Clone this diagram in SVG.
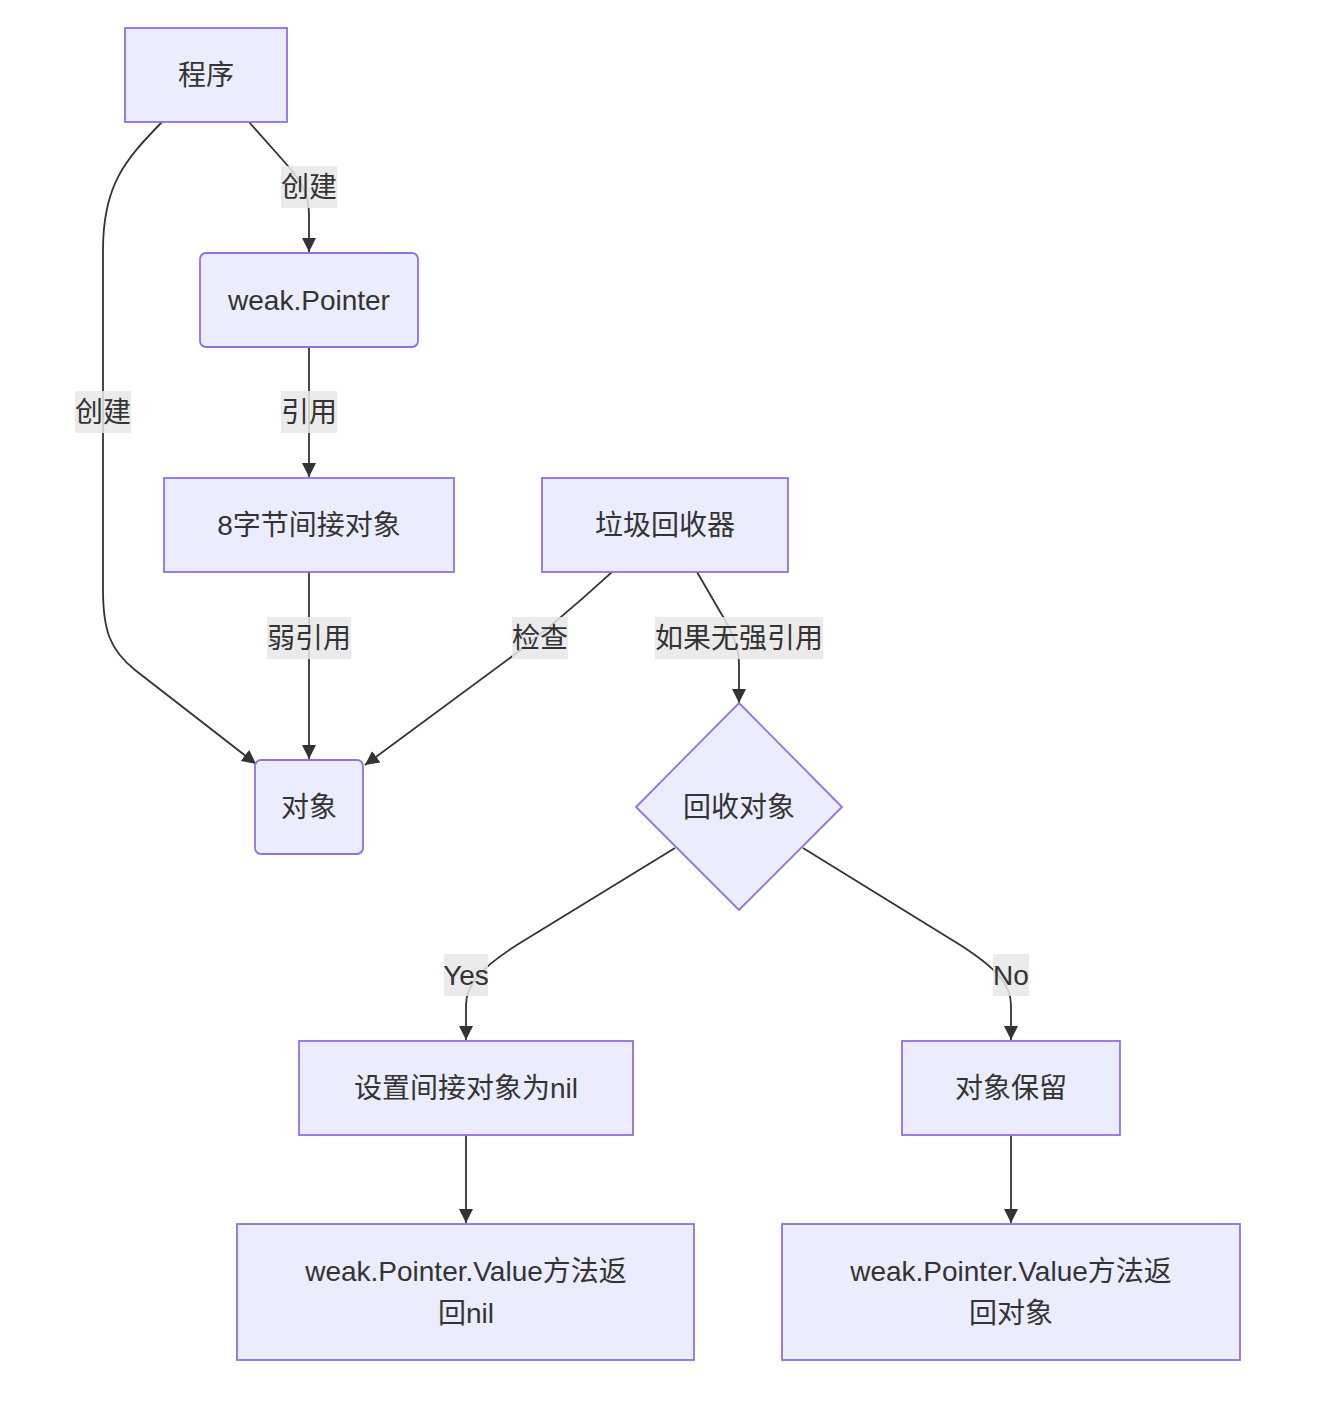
<svg xmlns="http://www.w3.org/2000/svg" width="1334" height="1410" viewBox="0 0 1334 1410">
<style>
.node rect,.node polygon{fill:#ECECFF;stroke:#9370DB;stroke-width:1.8}
text{font-family:"Liberation Sans","Noto Sans CJK SC",sans-serif;font-size:28px;fill:#333;text-anchor:middle;dominant-baseline:central}
.edge{fill:none;stroke:#333;stroke-width:1.8}
.lbl rect{fill:#e8e8e8;opacity:0.85}
</style>
<defs>
<marker id="arr" viewBox="0 0 10 10" refX="10" refY="5" markerWidth="14" markerHeight="14" markerUnits="userSpaceOnUse" orient="auto">
<path d="M0,0 L10,5 L0,10 z" fill="#333"/>
</marker>
</defs>
<rect width="1334" height="1410" fill="#fff"/>
<g id="edges">
<path class="edge" d="M162,122 C125,160 103,185 103,250 L103,590 C103,630 110,650 135,670 L256,764" marker-end="url(#arr)"/>
<path class="edge" d="M249,122 L288,166 C302,182 309,195 309,215 L309,252" marker-end="url(#arr)"/>
<path class="edge" d="M309,347 L309,477" marker-end="url(#arr)"/>
<path class="edge" d="M309,572 L309,759" marker-end="url(#arr)"/>
<path class="edge" d="M612,572 C590,592 560,620 510,658 L365,765" marker-end="url(#arr)"/>
<path class="edge" d="M697,572 L722,615 C734,635 739,648 739,665 L739,703" marker-end="url(#arr)"/>
<path class="edge" d="M675,848 L520,943 C480,968 466,985 466,1005 L466,1040" marker-end="url(#arr)"/>
<path class="edge" d="M803,848 L957,943 C997,968 1011,985 1011,1005 L1011,1040" marker-end="url(#arr)"/>
<path class="edge" d="M466,1135 L466,1223" marker-end="url(#arr)"/>
<path class="edge" d="M1011,1135 L1011,1223" marker-end="url(#arr)"/>
<g class="lbl"><rect x="281" y="166" width="56" height="42"/><text x="309" y="187">创建</text></g>
<g class="lbl"><rect x="75" y="391" width="56" height="42"/><text x="103" y="412">创建</text></g>
<g class="lbl"><rect x="281" y="391" width="56" height="42"/><text x="309" y="412">引用</text></g>
<g class="lbl"><rect x="267" y="617" width="84" height="42"/><text x="309" y="638">弱引用</text></g>
<g class="lbl"><rect x="512" y="617" width="56" height="42"/><text x="540" y="638">检查</text></g>
<g class="lbl"><rect x="655" y="617" width="168" height="42"/><text x="739" y="638">如果无强引用</text></g>
<g class="lbl"><rect x="444" y="954" width="44" height="42"/><text x="466" y="975">Yes</text></g>
<g class="lbl"><rect x="993" y="954" width="36" height="42"/><text x="1011" y="975">No</text></g>
</g>
<g id="n-program" class="node"><rect x="125" y="28" width="162" height="94"/><text x="206" y="75">程序</text></g>
<g id="n-weakptr" class="node"><rect x="200" y="253" width="218" height="94" rx="6"/><text x="309" y="300">weak.Pointer</text></g>
<g id="n-indirect" class="node"><rect x="164" y="478" width="290" height="94"/><text x="309" y="525">8字节间接对象</text></g>
<g id="n-gc" class="node"><rect x="542" y="478" width="246" height="94"/><text x="665" y="525">垃圾回收器</text></g>
<g id="n-object" class="node"><rect x="255" y="760" width="108" height="94" rx="6"/><text x="309" y="807">对象</text></g>
<g id="n-decide" class="node"><polygon points="739,703 842,807 739,910 636,807"/><text x="739" y="807">回收对象</text></g>
<g id="n-setnil" class="node"><rect x="299" y="1041" width="334" height="94"/><text x="466" y="1088">设置间接对象为nil</text></g>
<g id="n-keep" class="node"><rect x="902" y="1041" width="218" height="94"/><text x="1011" y="1088">对象保留</text></g>
<g id="n-retnil" class="node"><rect x="237" y="1224" width="457" height="136"/><text x="466" y="1271">weak.Pointer.Value方法返</text><text x="466" y="1313">回nil</text></g>
<g id="n-retobj" class="node"><rect x="782" y="1224" width="458" height="136"/><text x="1011" y="1271">weak.Pointer.Value方法返</text><text x="1011" y="1313">回对象</text></g>
</svg>
